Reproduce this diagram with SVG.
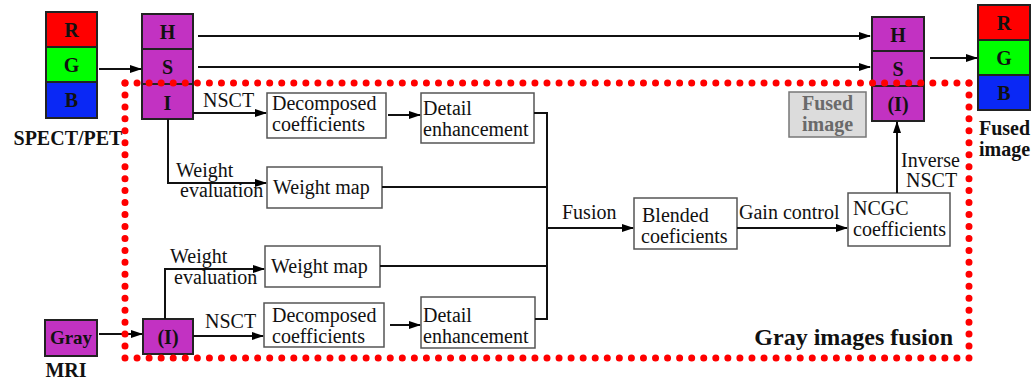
<svg xmlns="http://www.w3.org/2000/svg" width="1033" height="383" viewBox="0 0 1033 383">
<defs>
<marker id="ah" markerWidth="12" markerHeight="8" refX="11" refY="4" orient="auto" markerUnits="userSpaceOnUse">
<path d="M0,0 L12,4 L0,8 Z" fill="#000"/>
</marker>
<style>
.t{font-family:"Liberation Serif","Times New Roman",serif;font-size:20px;fill:#111}
.b{font-family:"Liberation Serif","Times New Roman",serif;font-size:20px;font-weight:bold;fill:#111}
.box{fill:#fff;stroke:#555;stroke-width:1.5}
.pur{fill:#c232c2;stroke:#222;stroke-width:2}
.c{fill:none;stroke:#111;stroke-width:2}
.a{fill:none;stroke:#111;stroke-width:2;marker-end:url(#ah)}
.dot{fill:none;stroke:#ff0000;stroke-width:7;stroke-linecap:round}
</style>
</defs>
<rect width="1033" height="383" fill="#fff"/>

<g id="rgb-in">
<rect x="46" y="12" width="51" height="35" fill="#ff0000" stroke="#222" stroke-width="2"/>
<rect x="46" y="47" width="51" height="35" fill="#00ff00" stroke="#222" stroke-width="2"/>
<rect x="46" y="82" width="51" height="36" fill="#0a28f5" stroke="#222" stroke-width="2"/>
<text class="b" x="71.5" y="37" text-anchor="middle">R</text>
<text class="b" x="71.5" y="72" text-anchor="middle">G</text>
<text class="b" x="71.5" y="107" text-anchor="middle">B</text>
<text class="b" x="68" y="145" text-anchor="middle">SPECT/PET</text>
</g>

<g id="hsi-in">
<rect class="pur" x="142" y="14" width="51" height="35"/>
<rect class="pur" x="142" y="49" width="51" height="35"/>
<rect class="pur" x="142" y="84" width="51" height="35"/>
<text class="b" x="167.5" y="39" text-anchor="middle">H</text>
<text class="b" x="167.5" y="74" text-anchor="middle">S</text>
<text class="b" x="167.5" y="110" text-anchor="middle">I</text>
</g>

<g id="gray-in">
<rect class="pur" x="45" y="320" width="52" height="36"/>
<text class="b" x="71" y="344" text-anchor="middle" style="font-size:19px">Gray</text>
<text class="b" x="66" y="377" text-anchor="middle">MRI</text>
</g>

<g id="i-in">
<rect class="pur" x="143" y="319" width="50" height="35"/>
<text class="b" x="168" y="344" text-anchor="middle">(I)</text>
</g>

<g id="decomp1">
<rect class="box" x="267" y="93" width="119" height="45"/>
<text class="t" x="272" y="110">Decomposed</text>
<text class="t" x="272" y="131">coefficients</text>
</g>
<g id="detail1">
<rect class="box" x="421" y="93" width="113" height="50"/>
<text class="t" x="423" y="115">Detail</text>
<text class="t" x="423" y="136">enhancement</text>
</g>
<g id="wmap1">
<rect class="box" x="267" y="167" width="115" height="41"/>
<text class="t" x="273" y="194">Weight map</text>
</g>
<g id="wmap2">
<rect class="box" x="265" y="246" width="115" height="41"/>
<text class="t" x="271" y="273">Weight map</text>
</g>
<g id="decomp2">
<rect class="box" x="264" y="303" width="120" height="44"/>
<text class="t" x="272" y="322">Decomposed</text>
<text class="t" x="272" y="343">coefficients</text>
</g>
<g id="detail2">
<rect class="box" x="421" y="297" width="114" height="51"/>
<text class="t" x="423" y="322">Detail</text>
<text class="t" x="423" y="343">enhancement</text>
</g>
<g id="blended">
<rect class="box" x="634" y="198" width="103" height="51"/>
<text class="t" x="642" y="222">Blended</text>
<text class="t" x="641" y="243">coeficients</text>
</g>
<g id="ncgc">
<rect class="box" x="848" y="193" width="102" height="53"/>
<text class="t" x="853" y="215">NCGC</text>
<text class="t" x="853" y="236">coefficients</text>
</g>

<g id="fused-label">
<rect x="789" y="92" width="77" height="45" fill="#dcdcdc" stroke="#777" stroke-width="1.5"/>
<text class="b" x="827.5" y="110" text-anchor="middle" style="fill:#6a6a6a">Fused</text>
<text class="b" x="827.5" y="131" text-anchor="middle" style="fill:#6a6a6a">image</text>
</g>

<g id="hsi-out">
<rect class="pur" x="872" y="17" width="52" height="34"/>
<rect class="pur" x="872" y="51" width="52" height="35"/>
<rect class="pur" x="872" y="86" width="52" height="35"/>
<text class="b" x="898" y="42" text-anchor="middle">H</text>
<text class="b" x="898" y="76" text-anchor="middle">S</text>
<text class="b" x="898" y="111" text-anchor="middle">(I)</text>
</g>

<g id="rgb-out">
<rect x="978" y="5" width="52" height="35" fill="#ff0000" stroke="#222" stroke-width="2"/>
<rect x="978" y="40" width="52" height="35" fill="#00ff00" stroke="#222" stroke-width="2"/>
<rect x="978" y="75" width="52" height="35" fill="#0a28f5" stroke="#222" stroke-width="2"/>
<text class="b" x="1004" y="30" text-anchor="middle">R</text>
<text class="b" x="1004" y="65" text-anchor="middle">G</text>
<text class="b" x="1004" y="100" text-anchor="middle">B</text>
<text class="b" x="979" y="135">Fused</text>
<text class="b" x="979" y="156">image</text>
</g>

<g id="connectors">
<line class="a" x1="99" y1="69" x2="141" y2="69"/>
<line class="a" x1="99" y1="334" x2="142" y2="334"/>
<line class="a" x1="198" y1="36" x2="870" y2="36"/>
<line class="a" x1="198" y1="67" x2="870" y2="67"/>
<line class="a" x1="930" y1="58" x2="977" y2="58"/>
<line class="a" x1="193" y1="113" x2="266" y2="113"/>
<text class="t" x="203" y="107">NSCT</text>
<polyline class="a" points="168,119 168,183 266,183"/>
<text class="t" x="176" y="177">Weight</text>
<text class="t" x="180" y="197">evaluation</text>
<line class="a" x1="388" y1="115" x2="420" y2="115"/>
<line class="a" x1="193" y1="336" x2="263" y2="336"/>
<text class="t" x="205" y="328">NSCT</text>
<polyline class="a" points="165,319 165,269 264,269"/>
<text class="t" x="170" y="263">Weight</text>
<text class="t" x="174" y="284">evaluation</text>
<line class="a" x1="390" y1="325" x2="420" y2="325"/>
<polyline class="c" points="534,113 547,113 547,319 535,319"/>
<line class="c" x1="382" y1="187" x2="547" y2="187"/>
<line class="c" x1="380" y1="266" x2="547" y2="266"/>
<line class="a" x1="547" y1="228" x2="633" y2="228"/>
<text class="t" x="562" y="219">Fusion</text>
<line class="a" x1="737" y1="228" x2="847" y2="228"/>
<text class="t" x="739" y="219">Gain control</text>
<line class="a" x1="897" y1="193" x2="897" y2="122"/>
<text class="t" x="901" y="167">Inverse</text>
<text class="t" x="906" y="187">NSCT</text>
</g>

<g id="gray-fusion-region">
<line class="dot" x1="125" y1="83" x2="969" y2="83" stroke-dasharray="0 12.057"/>
<line class="dot" x1="125" y1="358" x2="969" y2="358" stroke-dasharray="0 12.057"/>
<line class="dot" x1="125" y1="83" x2="125" y2="358" stroke-dasharray="0 11.957"/>
<line class="dot" x1="969" y1="83" x2="969" y2="358" stroke-dasharray="0 11.957"/>
<text class="b" x="953" y="345" text-anchor="end" style="font-size:24px">Gray images fusion</text>
</g>
</svg>
